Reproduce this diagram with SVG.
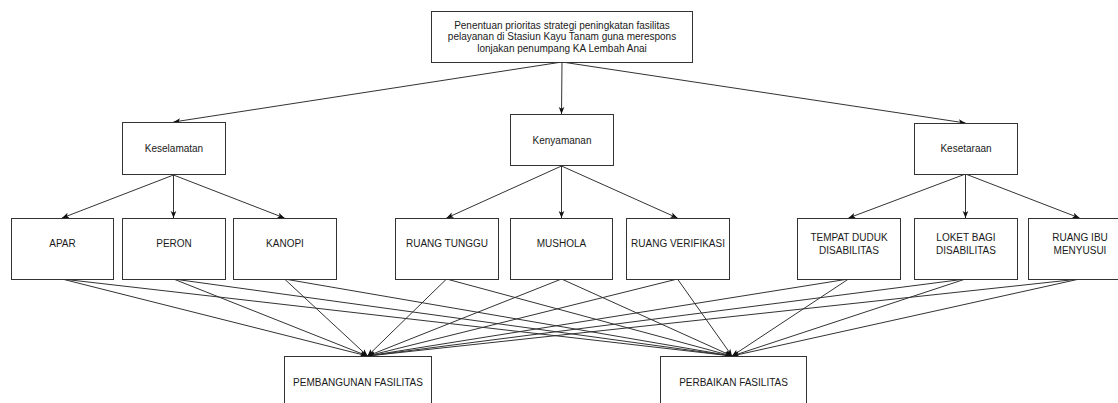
<svg xmlns="http://www.w3.org/2000/svg" width="1118" height="403" viewBox="0 0 1118 403">
<style>
.box{fill:#ffffff;stroke:#333333;stroke-width:1}
.t{font-family:"Liberation Sans",Arial,Helvetica,sans-serif;font-size:10px;fill:#1a1a1a;text-anchor:middle}
.e{fill:none;stroke:#333333;stroke-width:1}
.a{marker-end:url(#arr)}
</style>
<defs>
<marker id="arr" viewBox="0 0 10 10" refX="10" refY="5" markerWidth="7" markerHeight="7" orient="auto" markerUnits="userSpaceOnUse">
<path d="M0,1 L10,5 L0,9 L2.5,5 z" fill="#111111"/>
</marker>
</defs>
<rect width="1118" height="403" fill="#ffffff"/>
<g id="connectors">
<path class="e a" d="M562,62 L173.5,122"/>
<path class="e a" d="M562,62 L561.5,114"/>
<path class="e a" d="M562,62 L965.5,123"/>
<path class="e a" d="M173.5,175 L62,218"/>
<path class="e a" d="M173.5,175 L173.5,218"/>
<path class="e a" d="M173.5,175 L284.5,218"/>
<path class="e a" d="M561.5,166 L446.5,218"/>
<path class="e a" d="M561.5,166 L561.5,218"/>
<path class="e a" d="M561.5,166 L677.5,218"/>
<path class="e a" d="M965.5,174 L848.5,218"/>
<path class="e a" d="M965.5,174 L965.5,218"/>
<path class="e a" d="M965.5,174 L1079.5,218"/>
<path class="e a" d="M62,279 L367.5,356"/>
<path class="e a" d="M62,279 L732,356"/>
<path class="e a" d="M173.5,279 L367.5,356"/>
<path class="e a" d="M173.5,279 L732,356"/>
<path class="e a" d="M284.5,279 L367.5,356"/>
<path class="e a" d="M284.5,279 L732,356"/>
<path class="e a" d="M446.5,279 L367.5,356"/>
<path class="e a" d="M446.5,279 L732,356"/>
<path class="e a" d="M561.5,279 L367.5,356"/>
<path class="e a" d="M561.5,279 L732,356"/>
<path class="e a" d="M677.5,279 L367.5,356"/>
<path class="e a" d="M677.5,279 L732,356"/>
<path class="e a" d="M848.5,279 L367.5,356"/>
<path class="e a" d="M848.5,279 L732,356"/>
<path class="e a" d="M965.5,279 L367.5,356"/>
<path class="e a" d="M965.5,279 L732,356"/>
<path class="e a" d="M1079.5,279 L367.5,356"/>
<path class="e a" d="M1079.5,279 L732,356"/>
</g>
<g id="goal">
<rect class="box" x="431.5" y="11.5" width="261" height="51"/>
<text class="t" x="562" y="28.5">Penentuan prioritas strategi peningkatan fasilitas</text>
<text class="t" x="562" y="40.2">pelayanan di Stasiun Kayu Tanam guna merespons</text>
<text class="t" x="562" y="51.9">lonjakan penumpang KA Lembah Anai</text>
</g>
<g id="keselamatan">
<rect class="box" x="122.5" y="122.5" width="103" height="52"/>
<text class="t" x="174" y="152">Keselamatan</text>
</g>
<g id="kenyamanan">
<rect class="box" x="510.5" y="114.5" width="103" height="51"/>
<text class="t" x="562" y="143.5">Kenyamanan</text>
</g>
<g id="kesetaraan">
<rect class="box" x="914.5" y="123.5" width="103" height="51"/>
<text class="t" x="966" y="152">Kesetaraan</text>
</g>
<g id="apar">
<rect class="box" x="11.5" y="218.5" width="102" height="61"/>
<text class="t" x="62.5" y="247">APAR</text>
</g>
<g id="peron">
<rect class="box" x="122.5" y="218.5" width="103" height="61"/>
<text class="t" x="174" y="247">PERON</text>
</g>
<g id="kanopi">
<rect class="box" x="233.5" y="218.5" width="103" height="61"/>
<text class="t" x="285" y="247">KANOPI</text>
</g>
<g id="ruang-tunggu">
<rect class="box" x="395.5" y="218.5" width="103" height="61"/>
<text class="t" x="447" y="247">RUANG TUNGGU</text>
</g>
<g id="mushola">
<rect class="box" x="510.5" y="218.5" width="102" height="61"/>
<text class="t" x="561.5" y="247">MUSHOLA</text>
</g>
<g id="ruang-verifikasi">
<rect class="box" x="626.5" y="218.5" width="103" height="61"/>
<text class="t" x="678" y="247">RUANG VERIFIKASI</text>
</g>
<g id="tempat-duduk">
<rect class="box" x="797.5" y="218.5" width="103" height="61"/>
<text class="t" x="849" y="240.8">TEMPAT DUDUK</text>
<text class="t" x="849" y="253.6">DISABILITAS</text>
</g>
<g id="loket">
<rect class="box" x="914.5" y="218.5" width="103" height="61"/>
<text class="t" x="966" y="240.8">LOKET BAGI</text>
<text class="t" x="966" y="253.6">DISABILITAS</text>
</g>
<g id="ruang-ibu">
<rect class="box" x="1028.5" y="218.5" width="103" height="61"/>
<text class="t" x="1080" y="240.8">RUANG IBU</text>
<text class="t" x="1080" y="253.6">MENYUSUI</text>
</g>
<g id="pembangunan">
<rect class="box" x="284.5" y="356.5" width="147" height="52"/>
<text class="t" x="358" y="385.5">PEMBANGUNAN FASILITAS</text>
</g>
<g id="perbaikan">
<rect class="box" x="660.5" y="356.5" width="146" height="52"/>
<text class="t" x="733.5" y="385.5">PERBAIKAN FASILITAS</text>
</g>
</svg>
